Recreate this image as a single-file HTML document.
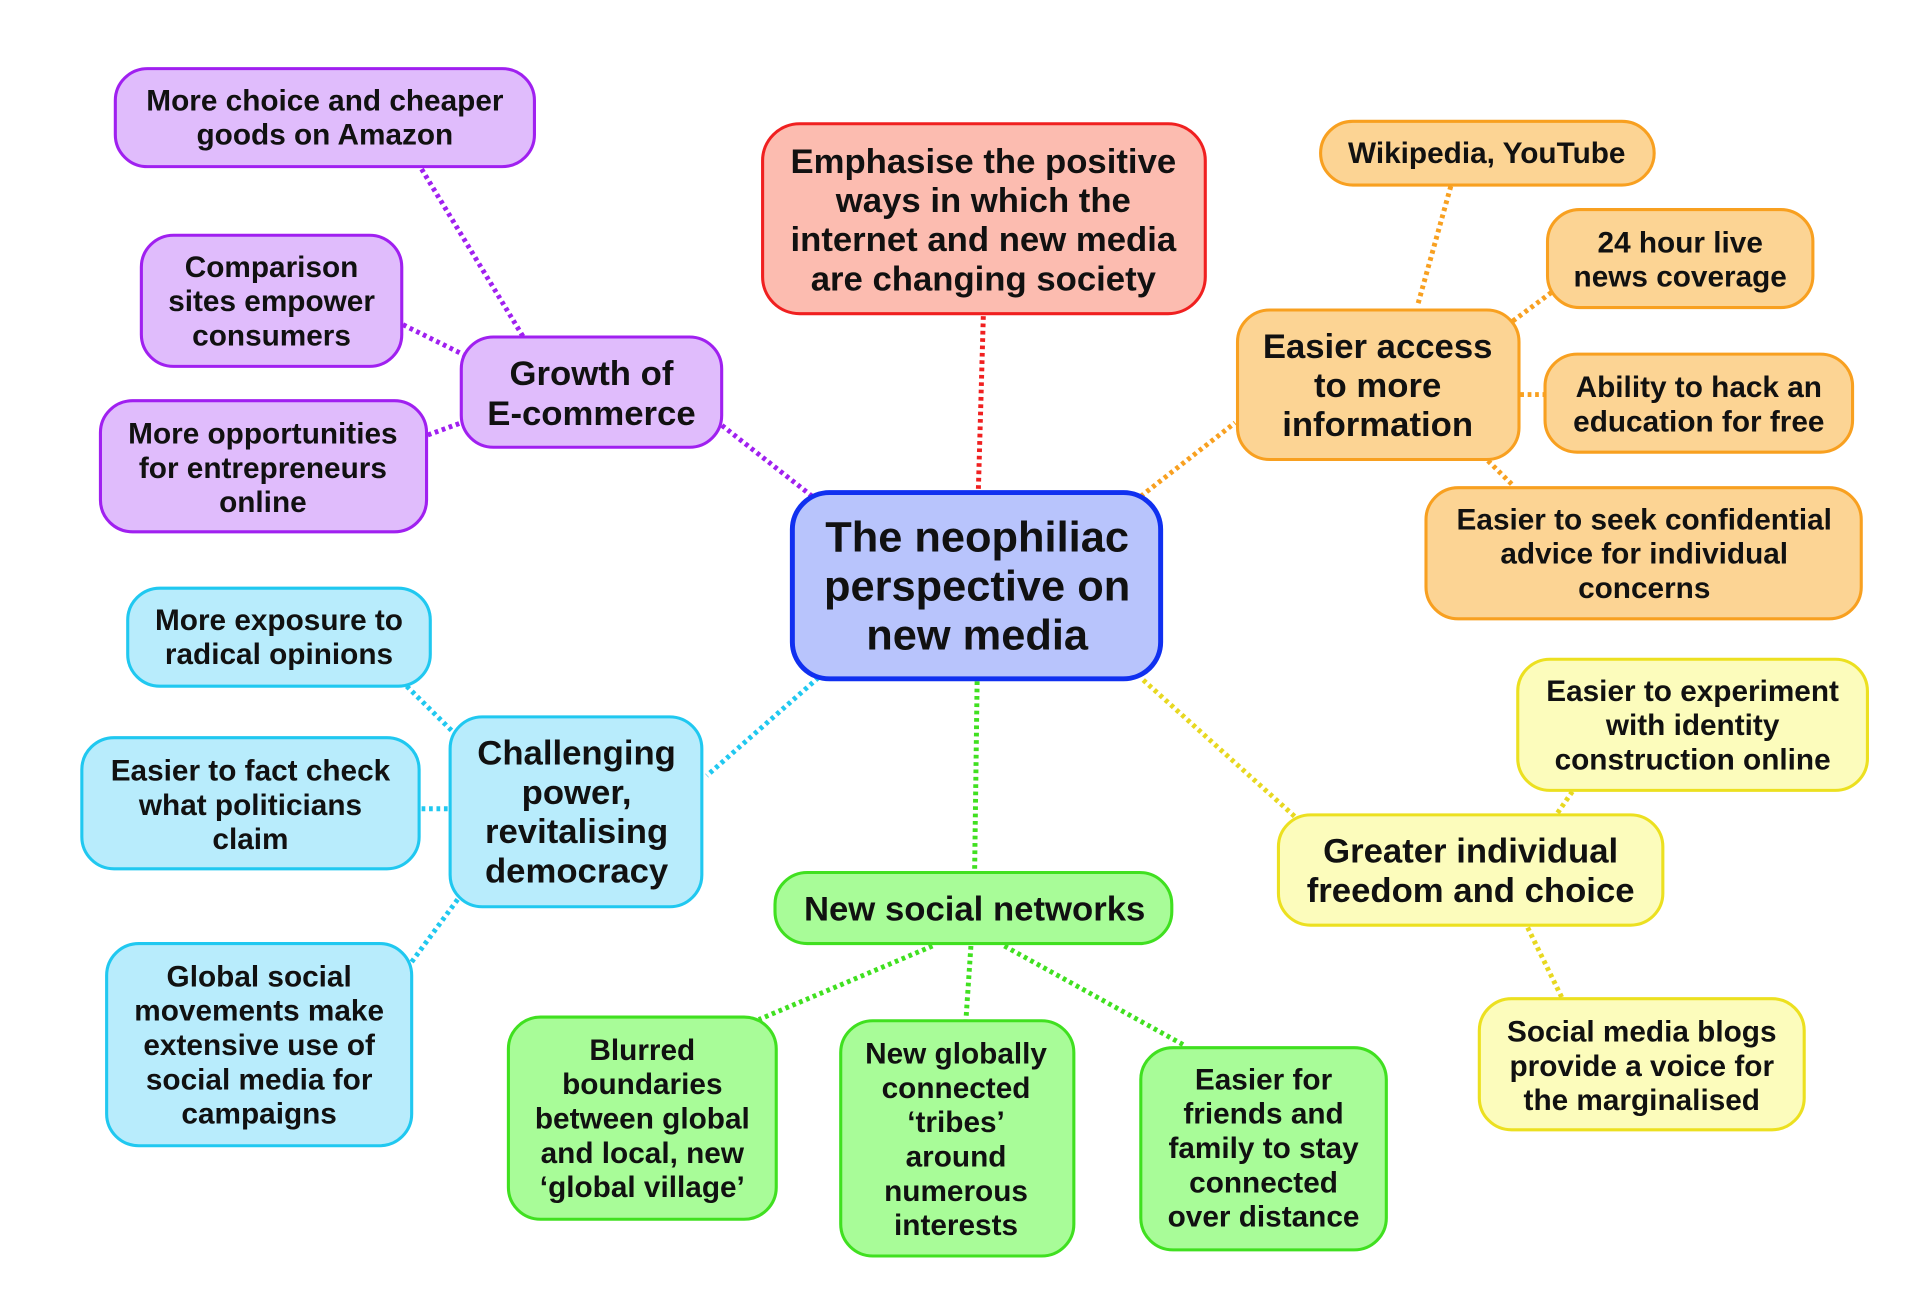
<!DOCTYPE html>
<html><head><meta charset="utf-8"><style>
html,body{margin:0;padding:0;background:#fff;}
svg{display:block;}
text{font-family:"Liberation Sans",Arial,sans-serif;font-weight:bold;fill:#111;text-anchor:middle;}
.l{fill:none;stroke-width:4;stroke-dasharray:3 3;}
</style></head><body>
<svg width="1922" height="1294" viewBox="0 0 1550 1056" preserveAspectRatio="none">
<!-- connectors -->
<g class="c">
<line class="l" stroke="#a020f0" x1="655" y1="405" x2="582" y2="347"/>
<line class="l" stroke="#a020f0" x1="340" y1="138" x2="422" y2="275"/>
<line class="l" stroke="#a020f0" x1="325" y1="265" x2="375" y2="290"/>
<line class="l" stroke="#a020f0" x1="345" y1="355" x2="372" y2="345"/>
<line class="l" stroke="#f02020" x1="793" y1="258" x2="789" y2="400"/>
<line class="l" stroke="#f8a020" x1="920" y1="405" x2="996" y2="345"/>
<line class="l" stroke="#f8a020" x1="1170" y1="152" x2="1143" y2="250"/>
<line class="l" stroke="#f8a020" x1="1220" y1="262" x2="1252" y2="238"/>
<line class="l" stroke="#f8a020" x1="1226" y1="322" x2="1246" y2="322"/>
<line class="l" stroke="#f8a020" x1="1200" y1="376" x2="1220" y2="396"/>
<line class="l" stroke="#20c8f0" x1="660" y1="553" x2="570" y2="633"/>
<line class="l" stroke="#20c8f0" x1="328" y1="560" x2="368" y2="600"/>
<line class="l" stroke="#20c8f0" x1="340" y1="660" x2="363" y2="660"/>
<line class="l" stroke="#20c8f0" x1="332" y1="785" x2="372" y2="730"/>
<line class="l" stroke="#40e020" x1="788" y1="556" x2="786" y2="710"/>
<line class="l" stroke="#40e020" x1="752" y1="772" x2="612" y2="832"/>
<line class="l" stroke="#40e020" x1="783" y1="772" x2="779" y2="832"/>
<line class="l" stroke="#40e020" x1="810" y1="772" x2="955" y2="853"/>
<line class="l" stroke="#e8d820" x1="922" y1="555" x2="1046" y2="668"/>
<line class="l" stroke="#e8d820" x1="1268" y1="646" x2="1255" y2="665"/>
<line class="l" stroke="#e8d820" x1="1232" y1="757" x2="1260" y2="815"/>
</g>
<!-- purple -->
<g fill="#e0bcfc" stroke="#a020f0" stroke-width="2.5">
<rect x="93" y="56" width="338" height="80" rx="26"/>
<rect x="114" y="192" width="210" height="107" rx="26"/>
<rect x="81" y="327" width="263" height="107" rx="26"/>
<rect x="372" y="275" width="210" height="90" rx="26"/>
</g>
<!-- cyan -->
<g fill="#b8ecfc" stroke="#20c8f0" stroke-width="2.5">
<rect x="103" y="480" width="244" height="80" rx="26"/>
<rect x="66" y="602" width="272" height="107" rx="26"/>
<rect x="86" y="770" width="246" height="165" rx="26"/>
<rect x="363" y="585" width="203" height="155" rx="26"/>
</g>
<rect x="615" y="101" width="357" height="155" rx="30" fill="#fcbcb0" stroke="#f02020" stroke-width="2.5"/>
<rect x="639" y="402" width="297" height="152" rx="30" fill="#b8c4fc" stroke="#1030f0" stroke-width="4"/>
<!-- orange -->
<g fill="#fcd494" stroke="#f8a020" stroke-width="2.5">
<rect x="1065" y="99" width="269" height="52" rx="26"/>
<rect x="1248" y="171" width="214" height="80" rx="26"/>
<rect x="998" y="253" width="227" height="122" rx="26"/>
<rect x="1246" y="289" width="248" height="80" rx="26"/>
<rect x="1150" y="398" width="351" height="107" rx="26"/>
</g>
<!-- yellow -->
<g fill="#fcfcbc" stroke="#ece020" stroke-width="2.5">
<rect x="1224" y="538" width="282" height="107" rx="26"/>
<rect x="1031" y="665" width="310" height="90" rx="26"/>
<rect x="1193" y="815" width="262" height="107" rx="26"/>
</g>
<!-- green -->
<g fill="#a8fc98" stroke="#40e020" stroke-width="2.5">
<rect x="625" y="712" width="320" height="58" rx="26"/>
<rect x="410" y="830" width="216" height="165" rx="26"/>
<rect x="678" y="833" width="188" height="192" rx="26"/>
<rect x="920" y="855" width="198" height="165" rx="26"/>
</g>
<!-- texts -->
<g font-size="24">
<text x="262" y="90">More choice and cheaper<tspan x="262" dy="28">goods on Amazon</tspan></text>
<text x="219" y="226">Comparison<tspan x="219" dy="28">sites empower</tspan><tspan x="219" dy="28">consumers</tspan></text>
<text x="212" y="362">More opportunities<tspan x="212" dy="28">for entrepreneurs</tspan><tspan x="212" dy="28">online</tspan></text>
<text x="225" y="514">More exposure to<tspan x="225" dy="28">radical opinions</tspan></text>
<text x="202" y="637">Easier to fact check<tspan x="202" dy="28">what politicians</tspan><tspan x="202" dy="28">claim</tspan></text>
<text x="209" y="805">Global social<tspan x="209" dy="28">movements make</tspan><tspan x="209" dy="28">extensive use of</tspan><tspan x="209" dy="28">social media for</tspan><tspan x="209" dy="28">campaigns</tspan></text>
<text x="1199" y="133">Wikipedia, YouTube</text>
<text x="1355" y="206">24 hour live<tspan x="1355" dy="28">news coverage</tspan></text>
<text x="1370" y="324">Ability to hack an<tspan x="1370" dy="28">education for free</tspan></text>
<text x="1326" y="432">Easier to seek confidential<tspan x="1326" dy="28">advice for individual</tspan><tspan x="1326" dy="28">concerns</tspan></text>
<text x="1365" y="572">Easier to experiment<tspan x="1365" dy="28">with identity</tspan><tspan x="1365" dy="28">construction online</tspan></text>
<text x="1324" y="850">Social media blogs<tspan x="1324" dy="28">provide a voice for</tspan><tspan x="1324" dy="28">the marginalised</tspan></text>
<text x="518" y="865">Blurred<tspan x="518" dy="28">boundaries</tspan><tspan x="518" dy="28">between global</tspan><tspan x="518" dy="28">and local, new</tspan><tspan x="518" dy="28">‘global village’</tspan></text>
<text x="771" y="868">New globally<tspan x="771" dy="28">connected</tspan><tspan x="771" dy="28">‘tribes’</tspan><tspan x="771" dy="28">around</tspan><tspan x="771" dy="28">numerous</tspan><tspan x="771" dy="28">interests</tspan></text>
<text x="1019" y="889">Easier for<tspan x="1019" dy="28">friends and</tspan><tspan x="1019" dy="28">family to stay</tspan><tspan x="1019" dy="28">connected</tspan><tspan x="1019" dy="28">over distance</tspan></text>
</g>
<g font-size="28">
<text x="477" y="314">Growth of<tspan x="477" dy="33">E-commerce</tspan></text>
<text x="465" y="624">Challenging<tspan x="465" dy="32">power,</tspan><tspan x="465" dy="32">revitalising</tspan><tspan x="465" dy="32">democracy</tspan></text>
<text x="793" y="141">Emphasise the positive<tspan x="793" dy="32">ways in which the</tspan><tspan x="793" dy="32">internet and new media</tspan><tspan x="793" dy="32">are changing society</tspan></text>
<text x="1111" y="292">Easier access<tspan x="1111" dy="32">to more</tspan><tspan x="1111" dy="32">information</tspan></text>
<text x="1186" y="704">Greater individual<tspan x="1186" dy="32">freedom and choice</tspan></text>
<text x="786" y="751">New social networks</text>
</g>
<text font-size="35" x="788" y="450">The neophiliac<tspan x="788" dy="40">perspective on</tspan><tspan x="788" dy="40">new media</tspan></text>
</svg>
</body></html>
